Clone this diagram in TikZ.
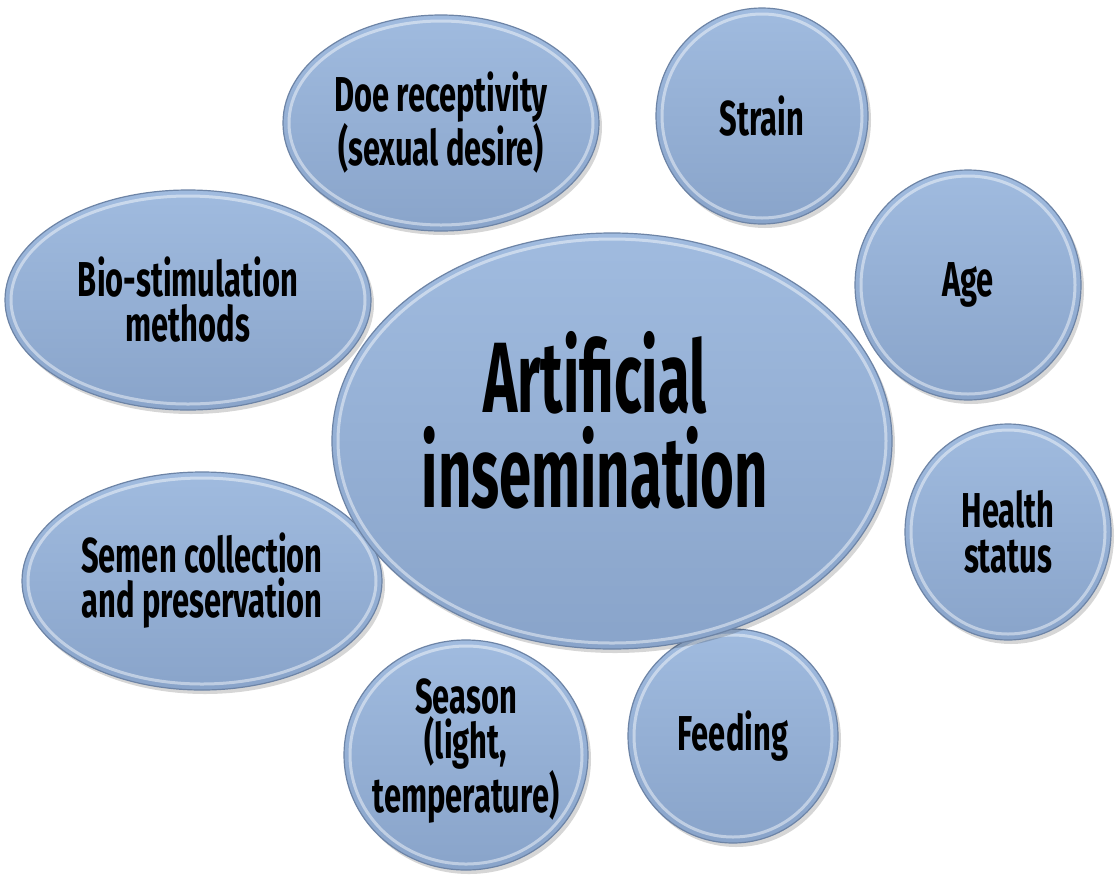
\documentclass[tikz,border=0pt]{standalone}
\usepackage{fontspec}
\setmainfont{Fira Sans}[FakeStretch=0.63]
\newfontfamily\hubface{Fira Sans}[FakeStretch=0.58]
\usetikzlibrary{shapes.geometric}
\definecolor{discTop}{HTML}{A0BBDF}
\definecolor{discBot}{HTML}{89A4CA}
\definecolor{discEdge}{HTML}{6D84A6}
\tikzset{
  disc/.style={ellipse, inner sep=0pt, top color=discTop, bottom color=discBot,
    draw=discEdge, line width=1.2pt},
  disctext/.style={align=center, text=black, inner sep=0pt,
    font=\bfseries\fontsize{49}{45}\selectfont},
  hubfont/.style={font=\hubface\bfseries\fontsize{100}{95}\selectfont},
  rim/.style={draw=white, opacity=0.45, line width=3pt},
  discshadow/.style={fill=black, opacity=0.16},
}
% \factor{name}{x}{y}{x radius}{y radius}{label}{label shift}{label options}
\newcommand\factor[8]{%
  \fill[discshadow] (#2+3,#3-4) ellipse [x radius=#4, y radius=#5];
  \node[disc, minimum width=2*#4, minimum height=2*#5] (#1) at (#2,#3) {};
  \draw[rim] (#1.center) ellipse [x radius=#4-6, y radius=#5-6];
  \node[disctext, #8] (#1-text) at ([shift={#7}]#1.center) {#6};
}
\begin{document}
\begin{tikzpicture}[x=1pt, y=1pt]
  \fill[white] (0,0) rectangle (1116,-879);
  \useasboundingbox (0,0) rectangle (1116,-879);

  \factor{doe}{441}{-123}{158}{108}{Doe receptivity\\(sexual desire)}{(0,0)}{}
  \factor{strain}{762}{-116}{106}{108}{Strain}{(0,0)}{}
  \factor{age}{968}{-285}{113}{115}{Age}{(0,0)}{}
  \factor{bio}{188}{-300}{183}{110}{Bio-stimulation\\methods}{(0,0)}{}
  \factor{health}{1008}{-532}{103}{108}{Health\\status}{(0,0)}{}
  \factor{semen}{202}{-581}{180}{109}{Semen collection\\and preservation}{(0,0)}{}
  \factor{season}{466}{-755}{122}{115}{Season\\(light,\\temperature)}{(0,4)}{}
  \factor{feeding}{733}{-736}{105}{107}{Feeding}{(0,0)}{}
  \factor{hub}{612}{-441}{280}{208}{Artificial\\insemination}{(-17,21)}{hubfont}
\end{tikzpicture}
\end{document}
